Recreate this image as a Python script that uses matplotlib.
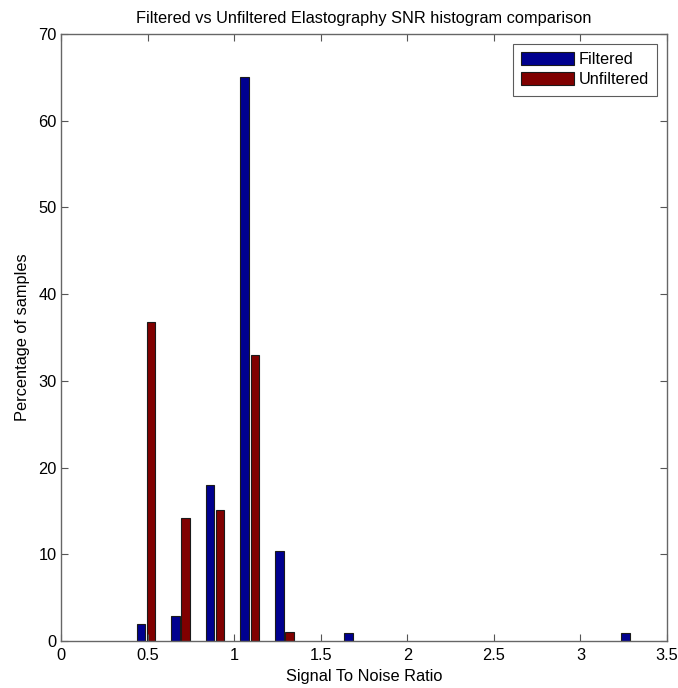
import matplotlib
matplotlib.use("Agg")
import matplotlib.pyplot as plt
import numpy as np

plt.rcParams['font.family'] = ['Liberation Sans', 'DejaVu Sans']

# Data
bin_centers = [0.49, 0.69, 0.89, 1.09, 1.29, 1.69, 3.29]
filtered = [1.95, 2.85, 17.95, 65.0, 10.4, 0.95, 0.95]
unfiltered = [36.75, 14.15, 15.1, 32.95, 1.0, 0.0, 0.0]
series_names = ["Filtered", "Unfiltered"]
x_ticks = [0, 0.5, 1, 1.5, 2, 2.5, 3, 3.5]
x_tick_labels = ["0", "0.5", "1", "1.5", "2", "2.5", "3", "3.5"]
y_ticks = [0, 10, 20, 30, 40, 50, 60, 70]

fs = 11.8

fig = plt.figure(figsize=(6.78, 6.88), dpi=100)
ax = fig.add_axes([61/678, 47/688, 606/678, 607/688])

bw = 0.049
off = 0.029
c = np.array(bin_centers)
ax.bar(c - off, filtered, width=bw, color='#00008F', edgecolor='#1a1a1a', linewidth=0.8, label=series_names[0])
uf = np.array(unfiltered)
mask = uf > 0
ax.bar(c[mask] + off, uf[mask], width=bw, color='#800000', edgecolor='#1a1a1a', linewidth=0.8, label=series_names[1])

ax.set_xlim(0, 3.5)
ax.set_ylim(0, 70)
ax.set_xticks(x_ticks)
ax.set_xticklabels(x_tick_labels)
ax.set_yticks(y_ticks)
ax.tick_params(direction='in', top=True, right=True, labelsize=fs, length=5, color='#555555')
ax.tick_params(axis='x', pad=5)
ax.tick_params(axis='y', pad=3)
for s in ax.spines.values():
    s.set_color('#666666')
    s.set_linewidth(1.0)

ax.set_title("Filtered vs Unfiltered Elastography SNR histogram comparison", fontsize=fs, pad=8)
ax.set_xlabel("Signal To Noise Ratio", fontsize=fs, labelpad=4)
ax.set_ylabel("Percentage of samples", fontsize=fs, labelpad=6)

leg = ax.legend(loc='upper right', fontsize=fs, frameon=True, fancybox=False,
                handlelength=3.2, handleheight=0.85, borderaxespad=0.6,
                labelspacing=0.3, handletextpad=0.3, borderpad=0.5)
leg.get_frame().set_edgecolor('#333333')
leg.get_frame().set_linewidth(0.8)

fig.savefig("out.png", dpi=100)
